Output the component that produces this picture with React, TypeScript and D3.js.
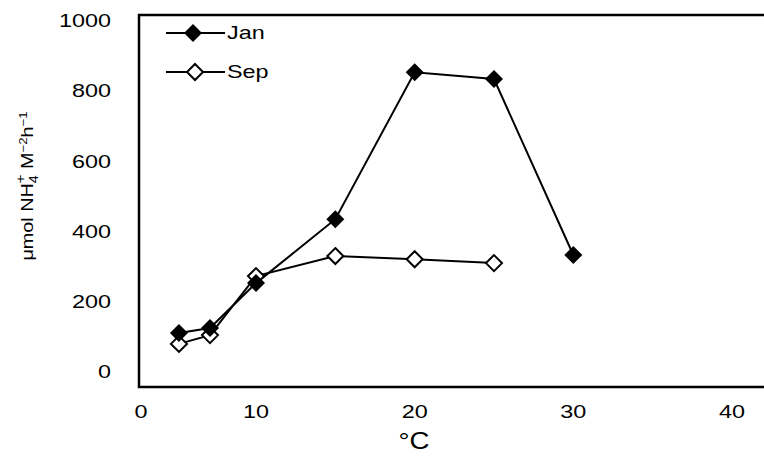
import React from "react";
import * as d3 from "d3";

const xValuesJan = [3.3, 6, 10, 15, 20, 25, 30];
const janValues = [111, 125, 253, 435, 853, 834, 333];
const xValuesSep = [3.3, 6, 10, 15, 20, 25];
const sepValues = [80, 105, 273, 330, 321, 310];
const xTicks = [0, 10, 20, 30, 40];
const yTicks = [0, 200, 400, 600, 800, 1000];
const seriesNames = ["Jan", "Sep"];

const W = 764;
const H = 471;
const FONT = "'Liberation Sans', Arial, Helvetica, sans-serif";
const SX = 1.3;

export default function App() {
  const x = d3.scaleLinear().domain([0, 10, 40]).range([141, 256, 732]);
  const y = d3.scaleLinear().domain([0, 1000]).range([372, 20.7]);
  const frame = { left: 139, top: 15, right: 775, bottom: 387 };
  const line = d3.line<[number, number]>().x((d) => x(d[0])).y((d) => y(d[1]));
  const janPts: [number, number][] = xValuesJan.map((v, i) => [v, janValues[i]]);
  const sepPts: [number, number][] = xValuesSep.map((v, i) => [v, sepValues[i]]);
  const diamond = (cx: number, cy: number, r: number) =>
    `M${cx},${cy - r}L${cx + r},${cy}L${cx},${cy + r}L${cx - r},${cy}Z`;

  return (
    <svg width={W} height={H} style={{ position: "absolute", left: 0, top: 0, background: "#fff" }} fontFamily={FONT}>
      <rect x={0} y={0} width={W} height={H} fill="#fff" />
      {/* frame */}
      <path
        d={`M${frame.right},${frame.top}H${frame.left}V${frame.bottom}H${frame.right}`}
        fill="none"
        stroke="#000"
        strokeWidth={2.5}
      />
      {/* y ticks */}
      {yTicks.map((t) => (
        <text
          key={t}
          transform={`translate(111,${y(t)}) scale(${SX},1)`}
          textAnchor="end"
          dominantBaseline="central"
          fontSize={18}
        >
          {t}
        </text>
      ))}
      {/* x ticks */}
      {xTicks.map((t) => (
        <text
          key={t}
          transform={`translate(${x(t)},412) scale(${SX},1)`}
          textAnchor="middle"
          dominantBaseline="central"
          fontSize={18}
        >
          {t}
        </text>
      ))}
      <text transform={`translate(414,449) scale(1.2,1)`} textAnchor="middle" fontSize={23}>
        °C
      </text>
      {/* y label */}
      <text transform="translate(33,186) rotate(-90) scale(1.2,1)" textAnchor="middle" fontSize={16.5}>
        <tspan>μmol NH</tspan>
        <tspan dy={5} fontSize={12}>4</tspan>
        <tspan dx={-7} dy={-13} fontSize={13}>+</tspan>
        <tspan dy={8}> M</tspan>
        <tspan dy={-6} fontSize={11}>−2</tspan>
        <tspan dy={6}>h</tspan>
        <tspan dy={-6} fontSize={11}>−1</tspan>
      </text>
      {/* series lines */}
      <path d={line(sepPts) || ""} fill="none" stroke="#000" strokeWidth={2} />
      <path d={line(janPts) || ""} fill="none" stroke="#000" strokeWidth={2} />
      {sepPts.map((p, i) => (
        <path key={"s" + i} d={diamond(x(p[0]), y(p[1]), 8)} fill="#fff" stroke="#000" strokeWidth={2} />
      ))}
      {janPts.map((p, i) => (
        <path key={"j" + i} d={diamond(x(p[0]), y(p[1]), 9)} fill="#000" stroke="none" />
      ))}
      {/* legend */}
      <g>
        <line x1={166} x2={225} y1={33} y2={33} stroke="#000" strokeWidth={2} />
        <path d={diamond(193, 33, 9)} fill="#000" />
        <text transform={`translate(227,33) scale(${SX},1)`} dominantBaseline="central" fontSize={18}>
          {seriesNames[0]}
        </text>
        <line x1={166} x2={225} y1={72} y2={72} stroke="#000" strokeWidth={2} />
        <path d={diamond(195, 72, 8)} fill="#fff" stroke="#000" strokeWidth={2} />
        <text transform={`translate(227,72) scale(${SX},1)`} dominantBaseline="central" fontSize={18}>
          {seriesNames[1]}
        </text>
      </g>
    </svg>
  );
}
